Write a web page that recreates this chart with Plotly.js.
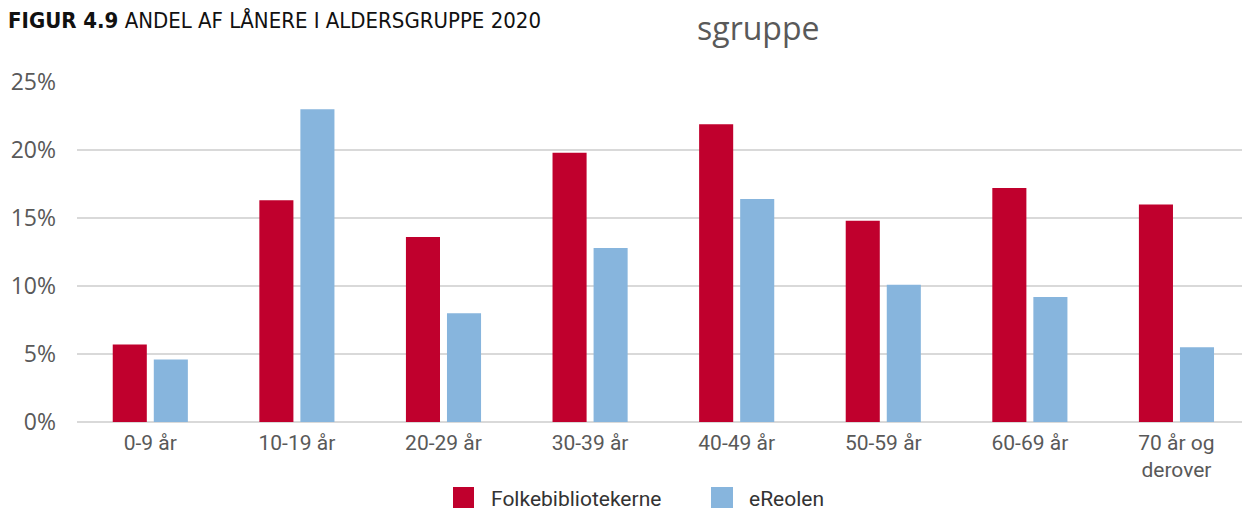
<!DOCTYPE html>
<html>
<head>
<meta charset="utf-8">
<script src="https://cdn.plot.ly/plotly-3.0.1.min.js"></script>
<style>html,body{margin:0;padding:0;background:#fff;}#chart{width:1242px;height:510px;}</style>
</head>
<body>
<div id="chart"></div>
<script>
const categories = ['0-9 år', '10-19 år', '20-29 år', '30-39 år', '40-49 år', '50-59 år', '60-69 år', '70 år og<br>derover'];
const seriesNames = ['Folkebibliotekerne', 'eReolen'];
const folkebibliotekerne = [5.7, 16.3, 13.6, 19.8, 21.9, 14.8, 17.2, 16.0];
const ereolen = [4.6, 23.0, 8.0, 12.8, 16.4, 10.1, 9.2, 5.5];
const yTickVals = [0, 5, 10, 15, 20, 25];
const yTickText = ['0%', '5%', '10%', '15%', '20%', '25%'];
const colors = ['#c0002d', '#87b5dd'];

const traces = [
  {type: 'bar', name: seriesNames[0], x: categories, y: folkebibliotekerne, marker: {color: colors[0]}, showlegend: false, hoverinfo: 'x+y'},
  {type: 'bar', name: seriesNames[1], x: categories, y: ereolen, marker: {color: colors[1]}, showlegend: false, hoverinfo: 'x+y'}
];

const W = 1165, L = 77, T = 82, H = 340;
const px = v => (v - L) / W;
const py = v => (T + H - v) / H;

const layout = {
  width: 1242, height: 510,
  margin: {l: L, r: 0, t: T, b: 510 - T - H, pad: 0},
  paper_bgcolor: '#fff', plot_bgcolor: '#fff',
  barmode: 'group', bargap: 0.44, bargroupgap: 0.17,
  title: {
    text: '<b>FIGUR 4.9</b> ANDEL AF LÅNERE I ALDERSGRUPPE 2020',
    font: {family: 'DejaVu Sans Condensed', size: 22, color: '#111'},
    x: 8 / 1242, xanchor: 'left', xref: 'container',
    y: 1 - 20 / 510, yanchor: 'middle', yref: 'container'
  },
  xaxis: {
    type: 'category', range: [-0.5, 7.447], fixedrange: true,
    showgrid: false, showline: false, zeroline: false, ticks: '',
    ticklabelstandoff: 6,
    tickfont: {family: 'Roboto', size: 21, color: '#595959'}
  },
  yaxis: {
    range: [0, 25], tickvals: yTickVals, ticktext: yTickText,
    showgrid: true, gridcolor: '#d9d9d9', gridwidth: 1.5,
    zeroline: true, zerolinecolor: '#d9d9d9', zerolinewidth: 1.5,
    showline: false, ticks: '', ticklabelstandoff: 20,
    tickfont: {family: 'Open Sans', size: 23, color: '#595959'}
  },
  shapes: [
    {type: 'rect', xref: 'paper', yref: 'paper', x0: px(453), x1: px(474), y0: py(487), y1: py(508), fillcolor: colors[0], line: {width: 0}},
    {type: 'rect', xref: 'paper', yref: 'paper', x0: px(711), x1: px(733), y0: py(487), y1: py(508), fillcolor: colors[1], line: {width: 0}}
  ],
  annotations: [
    {text: 'sgruppe', xref: 'paper', yref: 'paper', x: px(758), y: py(28), xanchor: 'center', yanchor: 'middle', showarrow: false,
     font: {family: 'Open Sans', size: 32, color: '#595959'}},
    {text: seriesNames[0], xref: 'paper', yref: 'paper', x: px(489), y: py(499), xanchor: 'left', yanchor: 'middle', showarrow: false,
     font: {family: 'Roboto', size: 21, color: '#333'}},
    {text: seriesNames[1], xref: 'paper', yref: 'paper', x: px(747), y: py(499), xanchor: 'left', yanchor: 'middle', showarrow: false,
     font: {family: 'Roboto', size: 21, color: '#333'}}
  ]
};

Plotly.newPlot('chart', traces, layout, {displayModeBar: false, staticPlot: true});
</script>
</body>
</html>
